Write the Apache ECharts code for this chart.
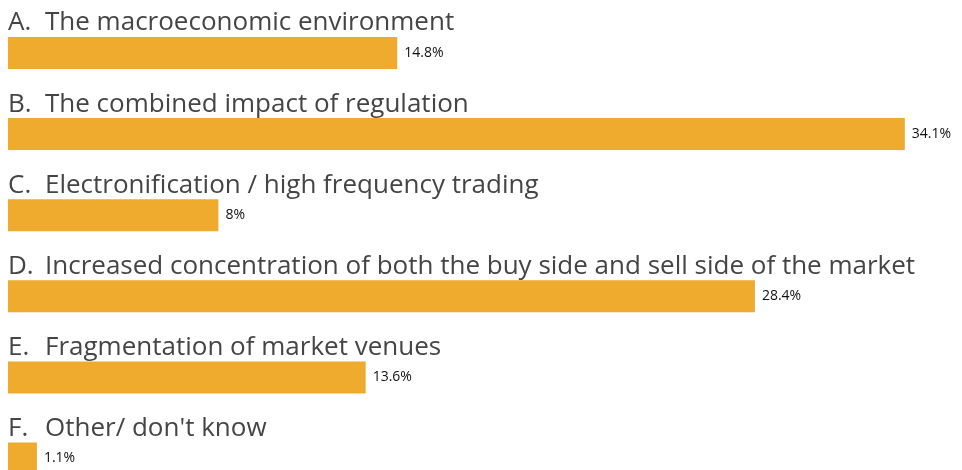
<!DOCTYPE html>
<html>
<head>
<meta charset="utf-8">
<script src="https://cdn.jsdelivr.net/npm/echarts@6/dist/echarts.min.js"></script>
<style>
  html, body { margin: 0; padding: 0; background: #fff; }
  #chart { width: 962px; height: 470px; }
</style>
</head>
<body>
<div id="chart"></div>
<script>
var categories = [
  "A. The macroeconomic environment",
  "B. The combined impact of regulation",
  "C. Electronification / high frequency trading",
  "D. Increased concentration of both the buy side and sell side of the market",
  "E. Fragmentation of market venues",
  "F. Other/ don't know"
];
var shares = [14.8, 34.1, 8, 28.4, 13.6, 1.1];

var chart = echarts.init(document.getElementById("chart"));

var option = {
  backgroundColor: "#fff",
  animation: false,
  grid: { left: 8, top: 53, width: 946.8, bottom: 11.5 },
  xAxis: {
    type: "value",
    min: 0,
    max: 36,
    show: false
  },
  yAxis: {
    type: "category",
    inverse: true,
    boundaryGap: false,
    data: categories,
    axisLine: { show: false },
    axisTick: { show: false },
    splitLine: { show: false },
    axisLabel: {
      inside: true,
      margin: 0,
      verticalAlign: "bottom",
      padding: [0, 0, 17, 0],
      formatter: function (v) {
        var i = v.indexOf(" ");
        return "{l|" + v.slice(0, i) + "}{t|" + v.slice(i + 1) + "}";
      },
      rich: {
        l: { width: 37, fontSize: 26, color: "#454545", fontFamily: "Open Sans" },
        t: { fontSize: 26, color: "#454545", fontFamily: "Open Sans" }
      }
    }
  },
  series: [
    {
      type: "bar",
      data: shares,
      barWidth: 32,
      clip: false,
      itemStyle: { color: "#EEAB2E" },
      label: {
        show: true,
        position: "right",
        distance: 7,
        fontSize: 14,
        color: "#111",
        fontFamily: "Open Sans",
        formatter: function (p) { return p.value + "%"; }
      }
    }
  ]
};

chart.setOption(option);
</script>
</body>
</html>
